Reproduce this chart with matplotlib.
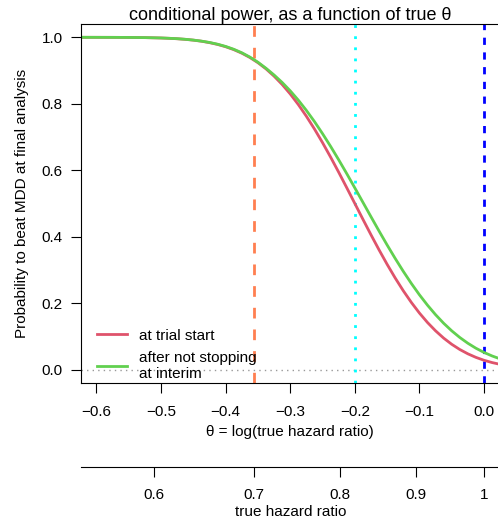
import numpy as np
import matplotlib
matplotlib.use("Agg")
import matplotlib.pyplot as plt

plt.rcParams['font.family'] = ['Liberation Sans', 'DejaVu Sans']

# theta = log(true hazard ratio)
theta = [-0.625, -0.6, -0.575, -0.55, -0.525, -0.5, -0.4875, -0.475, -0.4625,
         -0.45, -0.4375, -0.425, -0.4125, -0.4, -0.3875, -0.375, -0.3625,
         -0.35, -0.3375, -0.325, -0.3125, -0.3, -0.2875, -0.275, -0.2625,
         -0.25, -0.2375, -0.225, -0.2125, -0.2, -0.1875, -0.175, -0.1625,
         -0.15, -0.1375, -0.125, -0.1125, -0.1, -0.0875, -0.075, -0.0625,
         -0.05, -0.0375, -0.025, -0.0125, 0.0, 0.0125, 0.025]

# conditional power at trial start
cp_start = [1.000, 0.9999, 0.9998, 0.9996, 0.9990, 0.9979, 0.9969, 0.9956, 0.9938,
            0.9914, 0.9882, 0.9839, 0.9785, 0.9716, 0.9629, 0.9522, 0.9392,
            0.9235, 0.9049, 0.8830, 0.8580, 0.8295, 0.7976, 0.7624, 0.7241,
            0.6830, 0.6395, 0.5941, 0.5474, 0.5000, 0.4526, 0.4059, 0.3605,
            0.3170, 0.2759, 0.2376, 0.2024, 0.1705, 0.1420, 0.1170, 0.0951,
            0.0765, 0.0608, 0.0478, 0.0371, 0.0284, 0.0215, 0.0161]

# conditional power after not stopping at interim
cp_interim = [1.000, 0.9999, 0.9998, 0.9996, 0.9991, 0.9980, 0.9970, 0.9958, 0.9940,
              0.9916, 0.9885, 0.9845, 0.9792, 0.9725, 0.9640, 0.9535, 0.9405,
              0.9250, 0.9068, 0.8865, 0.8641, 0.8389, 0.8109, 0.7800, 0.7464,
              0.7101, 0.6718, 0.6315, 0.5898, 0.5469, 0.5036, 0.4602, 0.4172,
              0.3752, 0.3347, 0.2960, 0.2595, 0.2254, 0.1941, 0.1655, 0.1398,
              0.1170, 0.0970, 0.0796, 0.0646, 0.0520, 0.0414, 0.0326]

hr_design = 0.7      # orange line
theta_mdd = -0.2     # cyan line
theta_null = 0.0     # blue line

theta_ticks = [-0.6, -0.5, -0.4, -0.3, -0.2, -0.1, 0.0]
hr_ticks = [0.6, 0.7, 0.8, 0.9, 1.0]
hr_labels = ['0.6', '0.7', '0.8', '0.9', '1']
y_ticks = [0.0, 0.2, 0.4, 0.6, 0.8, 1.0]

fig = plt.figure(figsize=(4.98, 5.21), dpi=100)
ax = fig.add_axes([81/498, 1-383/521, 1.003-81/498, (383-24)/521])

ax.axhline(0, color='#999999', lw=1, linestyle=(0, (1, 3)))
ax.axvline(np.log(hr_design), color='#FF7F50', lw=2, linestyle=(0, (3.85, 3.95)))
ax.axvline(theta_mdd, color='#00FFFF', lw=2, linestyle=(0, (1, 3)))
ax.axvline(theta_null, color='#0000FF', lw=2, linestyle=(0, (2.6, 2.7)))

ax.plot(theta, cp_start, color='#DF536B', lw=2, label='at trial start')
ax.plot(theta, cp_interim, color='#61D04F', lw=2, label='after not stopping\nat interim')

ax.set_xlim(-0.624, 0.024)
ax.set_ylim(-0.04, 1.04)
ax.set_xticks(theta_ticks)
ax.set_xticklabels(['\u22120.6', '\u22120.5', '\u22120.4', '\u22120.3', '\u22120.2', '\u22120.1', '0.0'])
ax.set_yticks(y_ticks)
ax.set_yticklabels(['%.1f' % v for v in y_ticks])
ax.tick_params(axis='x', direction='out', length=7.2, width=0.8, labelsize=11, pad=9)
ax.tick_params(axis='y', direction='out', length=7.2, width=0.8, labelsize=11, pad=6)
ax.spines['right'].set_visible(False)

ax.set_title('conditional power, as a function of true \u03b8', fontsize=13, pad=2)
ax.set_xlabel('\u03b8 = log(true hazard ratio)', fontsize=11, labelpad=4)
ax.set_ylabel('Probability to beat MDD at final analysis', fontsize=11, labelpad=9)

sec = ax.secondary_xaxis((383-466.7)/359, functions=(np.exp, np.log))
sec.set_xticks(hr_ticks)
sec.set_xticklabels(hr_labels)
sec.tick_params(direction='out', length=7.2, width=0.8, labelsize=11, pad=8)
sec.set_xlabel('true hazard ratio', fontsize=11, labelpad=2)

ax.legend(loc='lower left', bbox_to_anchor=(0.024, -0.012), frameon=False, fontsize=11,
          handlelength=1.95, handletextpad=0.8, labelspacing=0.55, borderaxespad=0.0)

fig.savefig('out.png', dpi=100)
